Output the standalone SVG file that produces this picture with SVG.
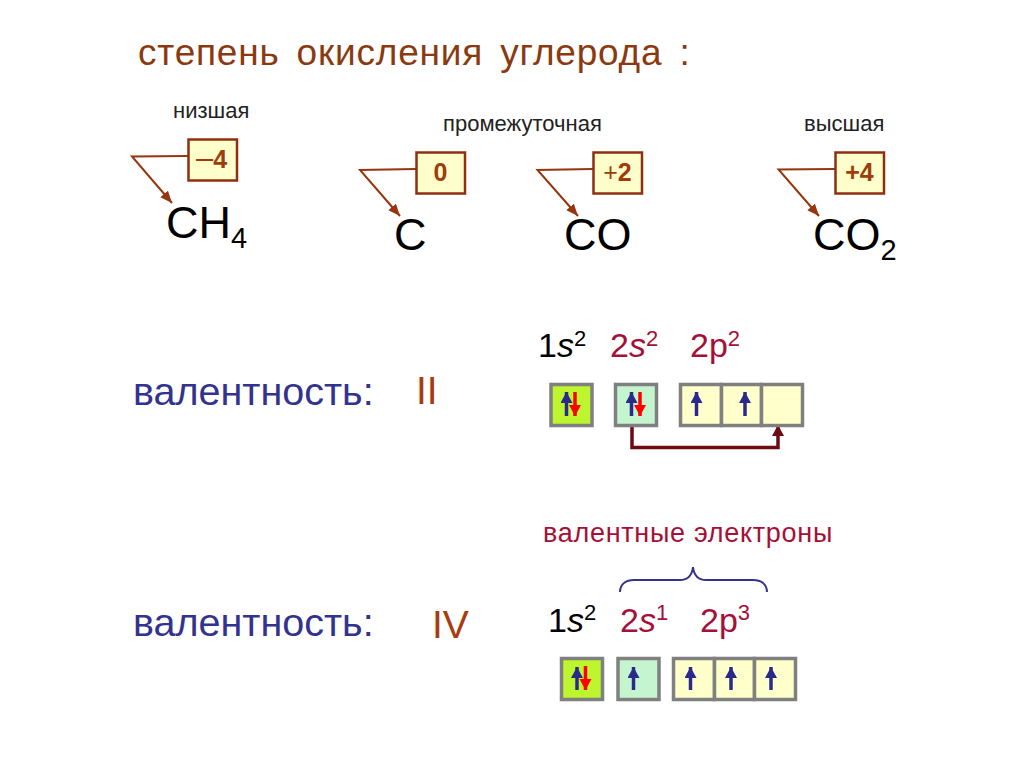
<svg xmlns="http://www.w3.org/2000/svg" width="1024" height="768" viewBox="0 0 1024 768">
<style>
text{font-family:"Liberation Sans",Arial,sans-serif}
.title{font-size:37px;fill:#8a3a10;letter-spacing:0.8px;word-spacing:6px}
.small{font-size:22px;fill:#222}
.formula{font-size:45px;fill:#000}
.ox{fill:#ffffcc;stroke:#8f2f12;stroke-width:2.5}
.oxt{font-size:25px;font-weight:bold;fill:#a03c0c;text-anchor:middle}
.ptr{fill:none;stroke:#96360f;stroke-width:2}
.val{font-size:39.5px;fill:#33338f}
.rom{font-size:39px;fill:#a83c10}
.cfg{font-size:34px;fill:#000}
.red{fill:#a50f38}
.i{font-style:italic}
.cell{stroke:#808080;stroke-width:3.5}
.up{stroke:#2a2a8c;stroke-width:3.5;fill:none;marker-end:url(#ub)}
.dn{stroke:#ff0000;stroke-width:3.5;fill:none;marker-end:url(#ur)}
</style>
<defs>
<marker id="ah" markerUnits="userSpaceOnUse" markerWidth="14" markerHeight="12" refX="12" refY="5" orient="auto"><path d="M0 0L12 5L0 10Z" fill="#96360f"/></marker>
<marker id="ub" markerUnits="userSpaceOnUse" markerWidth="13" markerHeight="13" refX="11" refY="6" orient="auto"><path d="M0 0L11 6L0 12Z" fill="#2a2a8c"/></marker>
<marker id="ur" markerUnits="userSpaceOnUse" markerWidth="13" markerHeight="13" refX="11" refY="6" orient="auto"><path d="M0 0L11 6L0 12Z" fill="#ff0000"/></marker>
<marker id="am" markerUnits="userSpaceOnUse" markerWidth="13" markerHeight="13" refX="11" refY="6" orient="auto"><path d="M0 0L11 6L0 12Z" fill="#6e0a14"/></marker>
</defs>
<rect width="1024" height="768" fill="#fff"/>
<text class="title" x="138" y="65">степень окисления углерода :</text>
<text class="small" x="173" y="118">низшая</text>
<text class="small" x="443" y="131">промежуточная</text>
<text class="small" x="804" y="131">высшая</text>

<g id="connectors">
<path class="ptr" marker-end="url(#ah)" d="M188 156L132 156.500L172 203"/>
<path class="ptr" marker-end="url(#ah)" d="M416 169L360 170L400 216"/>
<path class="ptr" marker-end="url(#ah)" d="M593 169L537.500 170L578 216"/>
<path class="ptr" marker-end="url(#ah)" d="M835 169L778.500 169.500L819 216"/>
<path d="M632 426V447.500H778V425" fill="none" stroke="#6e0a14" stroke-width="3.500" marker-end="url(#am)"/>
<path d="M620 592C620 584 626 580 634 580H680C688 580 692 576 693 567C694 576 698 580 706 580H753C761 580 767 584 767 592" fill="none" stroke="#33338f" stroke-width="2"/>
</g>

<g id="ox-ch4"><rect class="ox" x="188.500" y="139.500" width="48.500" height="41"/><text class="oxt" x="196" y="168" style="text-anchor:start"><tspan font-size="31" font-weight="normal">–</tspan>4</text></g>
<g id="ox-c"><rect class="ox" x="416.500" y="152.500" width="48.500" height="41"/><text class="oxt" x="440.500" y="181">0</text></g>
<g id="ox-co"><rect class="ox" x="593.500" y="152.500" width="48.500" height="41"/><text class="oxt" x="617.500" y="181"><tspan font-weight="normal">+</tspan>2</text></g>
<g id="ox-co2"><rect class="ox" x="835.500" y="152.500" width="48.500" height="41"/><text class="oxt" x="859.500" y="181">+4</text></g>

<g id="f-ch4"><text class="formula" x="166" y="238">CH<tspan font-size="29" dy="10">4</tspan></text></g>
<g id="f-c"><text class="formula" x="394" y="250">C</text></g>
<g id="f-co"><text class="formula" x="564" y="250">CO</text></g>
<g id="f-co2"><text class="formula" x="813" y="250">CO<tspan font-size="29" dy="10">2</tspan></text></g>

<text class="val" x="133" y="405">валентность:</text>
<text class="rom" x="416" y="404">II</text>
<text class="val" x="133" y="636">валентность:</text>
<text class="rom" x="432" y="638">IV</text>

<text class="cfg" x="538" y="357">1<tspan class="i">s</tspan><tspan font-size="22" dy="-11">2</tspan></text>
<text class="cfg red" x="610" y="357">2<tspan class="i">s</tspan><tspan font-size="22" dy="-11">2</tspan></text>
<text class="cfg red" x="690" y="357">2p<tspan font-size="22" dy="-11">2</tspan></text>

<g id="row1-1s"><rect class="cell" x="551" y="384.500" width="41" height="41" fill="#bdf52e"/><path class="up" d="M566.500 416V392"/><path class="dn" d="M575 392V416"/></g>
<g id="row1-2s"><rect class="cell" x="615.500" y="384.500" width="41" height="41" fill="#c4f5cf"/><path class="up" d="M631.500 416V392"/><path class="dn" d="M640 392V416"/></g>
<g id="row1-2p"><rect class="cell" x="680.500" y="384.500" width="41" height="41" fill="#ffffcc"/><rect class="cell" x="721.500" y="384.500" width="40" height="41" fill="#ffffcc"/><rect class="cell" x="761.500" y="384.500" width="41" height="41" fill="#ffffcc"/><path class="up" d="M696.500 416V392"/><path class="up" d="M745 416V392"/></g>

<text x="543" y="542" font-size="27" class="red" letter-spacing="0.700">валентные электроны</text>

<text class="cfg" x="548" y="632">1<tspan class="i">s</tspan><tspan font-size="22" dy="-12">2</tspan></text>
<text class="cfg red" x="620" y="632">2<tspan class="i">s</tspan><tspan font-size="22" dy="-12">1</tspan></text>
<text class="cfg red" x="700" y="632">2p<tspan font-size="22" dy="-12">3</tspan></text>

<g id="row2-1s"><rect class="cell" x="561.500" y="658.500" width="41" height="41" fill="#bdf52e"/><path class="up" d="M577 690V667"/><path class="dn" d="M585.500 666V690"/></g>
<g id="row2-2s"><rect class="cell" x="618" y="658.500" width="41" height="41" fill="#c4f5cf"/><path class="up" d="M633.500 690V667"/></g>
<g id="row2-2p"><rect class="cell" x="673.500" y="658.500" width="41" height="41" fill="#ffffcc"/><rect class="cell" x="714.500" y="658.500" width="40" height="41" fill="#ffffcc"/><rect class="cell" x="754.500" y="658.500" width="41" height="41" fill="#ffffcc"/><path class="up" d="M690.500 690V667"/><path class="up" d="M731 690V667"/><path class="up" d="M771 690V667"/></g>
</svg>
